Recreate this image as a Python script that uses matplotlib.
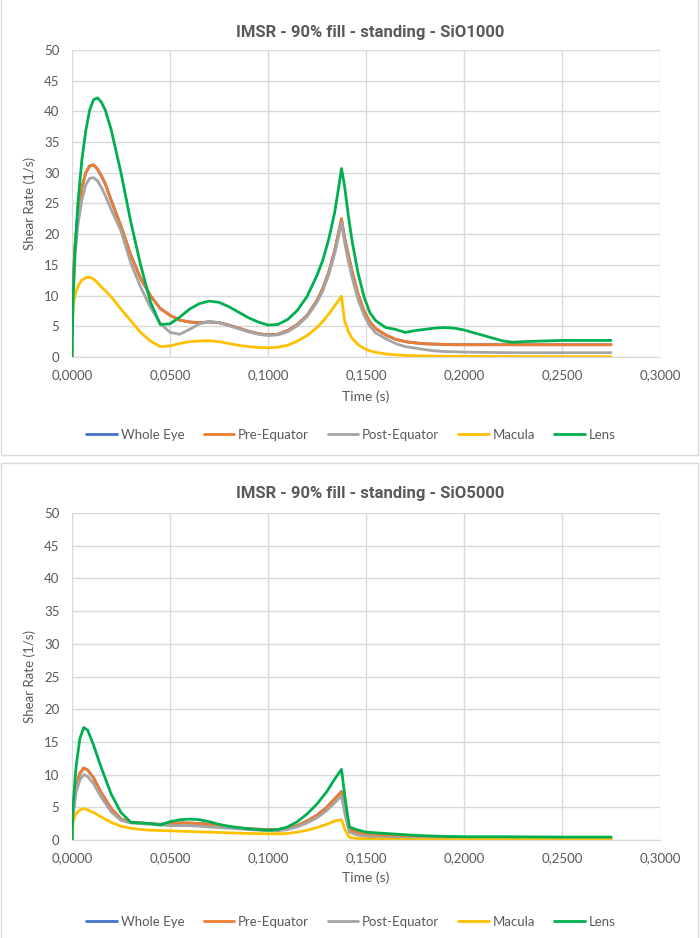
import matplotlib
matplotlib.use("Agg")
import matplotlib.pyplot as plt
from matplotlib.ticker import FuncFormatter, MultipleLocator
from matplotlib.patches import Rectangle

# ---- data: SiO1000 (top chart) ----
t_top = [0, 0.0005, 0.0015, 0.003, 0.005, 0.007, 0.009, 0.011, 0.013, 0.015,
         0.017, 0.02, 0.025, 0.03, 0.035, 0.04, 0.045, 0.05, 0.055, 0.06,
         0.065, 0.07, 0.075, 0.08, 0.085, 0.09, 0.095, 0.1, 0.105, 0.11,
         0.115, 0.12, 0.125, 0.128, 0.131, 0.134, 0.136, 0.1375, 0.139, 0.141,
         0.143, 0.146, 0.149, 0.152, 0.155, 0.16, 0.165, 0.17, 0.175, 0.18,
         0.185, 0.19, 0.195, 0.2, 0.21, 0.22, 0.225, 0.23, 0.24, 0.25,
         0.26, 0.275]
lens_top = [0, 9, 17, 25, 32, 36.8, 40.2, 41.9, 42.2, 41.5,
            40.2, 37, 30, 22, 15, 9, 5.3, 5.4, 6.5, 7.8,
            8.7, 9.1, 8.9, 8.2, 7.3, 6.4, 5.7, 5.2, 5.3, 6.1,
            7.6, 9.9, 13.3, 15.8, 19.2, 23.5, 27.5, 30.7, 28.0, 23.0,
            18.7, 13.6, 9.8, 7.2, 5.9, 4.8, 4.5, 4.0, 4.3, 4.5,
            4.7, 4.8, 4.7, 4.4, 3.5, 2.6, 2.4, 2.5, 2.6, 2.7,
            2.7, 2.7]
pre_top = [0, 11, 18, 23.5, 27.5, 30, 31.1, 31.3, 30.6, 29.5,
           28.2, 25.5, 21.3, 16.6, 12.8, 10.0, 7.9, 6.8, 6.0, 5.7,
           5.6, 5.7, 5.6, 5.2, 4.7, 4.2, 3.8, 3.6, 3.7, 4.3,
           5.3, 6.8, 9.2, 11.2, 13.8, 17.3, 20.2, 22.5, 19.5, 16.6,
           13.8, 10.2, 7.5, 5.7, 4.6, 3.6, 2.9, 2.5, 2.3, 2.15,
           2.1, 2.05, 2.0, 2.0, 2.0, 2.0, 2.0, 2.0, 2.0, 2.0,
           2.0, 2.0]
whole_top = [0, 11, 18, 23.5, 27.5, 30, 31.1, 31.3, 30.6, 29.5,
             28.2, 25.5, 21.3, 16.6, 12.8, 10.0, 7.9, 6.8, 6.0, 5.7,
             5.6, 5.7, 5.6, 5.2, 4.7, 4.2, 3.8, 3.6, 3.7, 4.3,
             5.3, 6.8, 9.2, 11.2, 13.8, 17.3, 20.2, 22.5, 19.5, 16.6,
             13.8, 10.2, 7.5, 5.7, 4.6, 3.6, 2.9, 2.5, 2.3, 2.15,
             2.1, 2.05, 2.0, 2.0, 2.0, 2.0, 2.0, 2.0, 2.0, 2.0,
             2.0, 2.0]
post_top = [0, 10, 16.5, 21.5, 25.5, 28, 29.1, 29.2, 28.7, 27.6,
            26.3, 24, 20.5, 15.3, 11.4, 8.1, 5.5, 4.0, 3.7, 4.5,
            5.4, 5.8, 5.6, 5.1, 4.6, 4.1, 3.7, 3.5, 3.6, 4.1,
            5.1, 6.6, 8.9, 10.8, 13.4, 16.8, 19.6, 21.9, 18.8, 15.6,
            12.8, 9.3, 6.8, 5.0, 3.9, 3.0, 2.2, 1.7, 1.45, 1.2,
            1.0, 0.9, 0.85, 0.8, 0.75, 0.72, 0.7, 0.7, 0.7, 0.7,
            0.7, 0.7]
macula_top = [0, 8.2, 10, 11.5, 12.5, 12.9, 13.0, 12.7, 12.1, 11.4,
              10.8, 9.8, 7.8, 5.9, 4.0, 2.6, 1.7, 1.8, 2.2, 2.5,
              2.6, 2.65, 2.5, 2.2, 1.9, 1.7, 1.55, 1.5, 1.6, 1.9,
              2.6, 3.5, 4.8, 5.8, 7.0, 8.3, 9.2, 9.9, 6.0, 4.1,
              3.0, 2.0, 1.4, 1.0, 0.75, 0.5, 0.35, 0.25, 0.2, 0.17,
              0.15, 0.13, 0.12, 0.1, 0.1, 0.08, 0.08, 0.07, 0.06, 0.05,
              0.05, 0.05]

# ---- data: SiO5000 (bottom chart) ----
t_bot = [0, 0.0005, 0.002, 0.004, 0.006, 0.008, 0.011, 0.015, 0.02, 0.025,
         0.03, 0.035, 0.04, 0.045, 0.05, 0.055, 0.06, 0.065, 0.07, 0.075,
         0.08, 0.09, 0.1, 0.105, 0.11, 0.115, 0.12, 0.125, 0.13, 0.134,
         0.1375, 0.1395, 0.1415, 0.145, 0.15, 0.16, 0.17, 0.18, 0.19, 0.2,
         0.22, 0.25, 0.275]
lens_bot = [0, 5, 11, 15.5, 17.2, 16.8, 14.5, 11.0, 7.0, 4.2,
            2.7, 2.6, 2.5, 2.3, 2.8, 3.1, 3.2, 3.1, 2.8, 2.4,
            2.1, 1.7, 1.5, 1.6, 2.0, 2.8, 4.0, 5.5, 7.4, 9.3,
            10.8, 6, 2.0, 1.6, 1.2, 1.0, 0.8, 0.65, 0.55, 0.5,
            0.5, 0.45, 0.45]
pre_bot = [0, 4, 8, 10.2, 11, 10.7, 9.5, 7.2, 4.8, 3.2,
           2.7, 2.6, 2.5, 2.4, 2.5, 2.6, 2.6, 2.5, 2.4, 2.2,
           2.0, 1.7, 1.6, 1.6, 1.8, 2.2, 2.9, 3.8, 5.0, 6.3,
           7.4, 4.3, 1.6, 1.2, 0.95, 0.7, 0.55, 0.45, 0.4, 0.35,
           0.3, 0.3, 0.3]
whole_bot = [0, 4, 8, 10.2, 11, 10.7, 9.5, 7.2, 4.8, 3.2,
             2.7, 2.6, 2.5, 2.4, 2.5, 2.6, 2.6, 2.5, 2.4, 2.2,
             2.0, 1.7, 1.6, 1.6, 1.8, 2.2, 2.9, 3.8, 5.0, 6.3,
             7.4, 4.3, 1.6, 1.2, 0.95, 0.7, 0.55, 0.45, 0.4, 0.35,
             0.3, 0.3, 0.3]
post_bot = [0, 3.5, 7.2, 9.2, 10, 9.7, 8.6, 6.5, 4.3, 3.0,
            2.6, 2.5, 2.4, 2.3, 2.2, 2.2, 2.2, 2.1, 2.0, 1.9,
            1.8, 1.6, 1.4, 1.4, 1.6, 2.0, 2.6, 3.4, 4.5, 5.7,
            6.7, 3.6, 1.2, 0.8, 0.55, 0.35, 0.25, 0.2, 0.18, 0.15,
            0.12, 0.1, 0.1]
macula_bot = [0, 2.8, 4.0, 4.6, 4.8, 4.6, 4.2, 3.5, 2.7, 2.1,
              1.8, 1.6, 1.5, 1.45, 1.4, 1.35, 1.3, 1.25, 1.2, 1.15,
              1.1, 1.0, 0.95, 0.95, 1.0, 1.2, 1.5, 1.9, 2.4, 2.9,
              3.1, 1.4, 0.4, 0.25, 0.18, 0.1, 0.06, 0.05, 0.05, 0.05,
              0.05, 0.05, 0.05]

series_names = ["Whole Eye", "Pre-Equator", "Post-Equator", "Macula", "Lens"]
colors = ["#4472C4", "#ED7D31", "#A5A5A5", "#FFC000", "#00B050"]

W, H = 700, 938
fig = plt.figure(figsize=(W / 100, H / 100), dpi=100)
txt = "#595959"
tick_font = "Lato"


def dec_comma(v, pos):
    return f"{v:.4f}".replace(".", ",")


def make_chart(box, plot, title, t, data, title_y, xlabel_y, legend_y):
    # chart frame
    x0, y0, x1, y1 = box
    fig.patches.append(Rectangle((x0 / W, 1 - y1 / H), (x1 - x0) / W, (y1 - y0) / H,
                                 transform=fig.transFigure, fill=False,
                                 edgecolor="#d9d9d9", linewidth=1))
    left, top, right, bottom = plot
    ax = fig.add_axes([left / W, 1 - bottom / H, (right - left) / W, (bottom - top) / H])
    for name, col, vals in zip(series_names, colors, data):
        ax.plot(t, vals, color=col, linewidth=2.0, label=name,
                solid_capstyle="round", solid_joinstyle="round")
    ax.set_xlim(0, 0.3)
    ax.set_ylim(0, 50)
    ax.xaxis.set_major_locator(MultipleLocator(0.05))
    ax.yaxis.set_major_locator(MultipleLocator(5))
    ax.xaxis.set_major_formatter(FuncFormatter(dec_comma))
    ax.grid(True, color="#d9d9d9", linewidth=1)
    ax.set_axisbelow(True)
    for s in ["top", "right", "left"]:
        ax.spines[s].set_visible(False)
    ax.spines["bottom"].set_color("#d9d9d9")
    ax.tick_params(length=0, colors=txt, labelsize=9.5, pad=9)
    for lab in ax.get_xticklabels() + ax.get_yticklabels():
        lab.set_family(tick_font)
    ax.set_ylabel("Shear Rate (1/s)", color=txt, fontsize=9.5, family=tick_font, labelpad=6)
    fig.text((left + right) / 2 / W, 1 - xlabel_y / H, "Time (s)", ha="center", va="center",
             color=txt, fontsize=10, family=tick_font)
    fig.text(370 / W, 1 - title_y / H, title, ha="center", va="center",
             color=txt, fontsize=12, fontweight="bold", family=["Roboto", "DejaVu Sans"])
    fig.legend(*ax.get_legend_handles_labels(), loc="center",
               bbox_to_anchor=(351 / W, 1 - legend_y / H), ncol=5, frameon=False,
               handlelength=2.3, handletextpad=0.3, columnspacing=1.45,
               prop={"family": tick_font, "size": 9.5}, labelcolor=txt)
    return ax


make_chart((1, -2, 698, 455), (72, 50, 660, 357), "IMSR - 90% fill - standing - SiO1000",
           t_top, [whole_top, pre_top, post_top, macula_top, lens_top], 33, 397, 435)
make_chart((1, 463, 698, 940), (72, 513, 660, 840), "IMSR - 90% fill - standing - SiO5000",
           t_bot, [whole_bot, pre_bot, post_bot, macula_bot, lens_bot], 493, 878, 922)

fig.savefig("out.png", dpi=100)
